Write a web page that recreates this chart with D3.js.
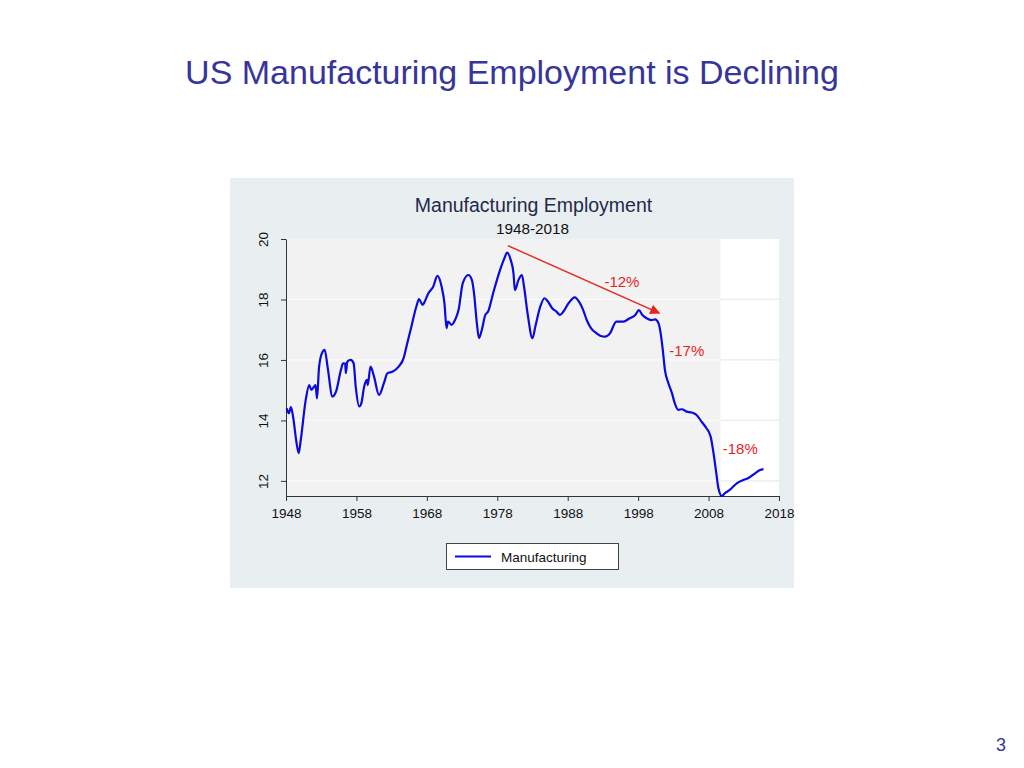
<!DOCTYPE html>
<html>
<head>
<meta charset="utf-8">
<script src="https://cdn.jsdelivr.net/npm/d3@7"></script>
<style>
  body { margin: 0; background: #ffffff; }
  svg { display: block; font-family: "Liberation Sans", Arial, sans-serif; }
</style>
</head>
<body>
<svg id="chart" width="1024" height="768"></svg>
<script>
// ---- Data (millions of employees) ----
const years = [
  1948.1, 1948.4, 1948.7, 1949.0, 1949.5, 1949.8, 1950.1, 1950.8, 1951.3, 1951.6,
  1952.0, 1952.2, 1952.4, 1952.7, 1953.2, 1953.5, 1953.9, 1954.6, 1955.1, 1955.8,
  1956.1, 1956.4, 1956.5, 1956.7, 1957.2, 1957.6, 1957.9, 1958.4, 1958.7, 1959.1,
  1959.5, 1959.6, 1960.0, 1960.5, 1961.2, 1961.9, 1962.4, 1963.1, 1964.0, 1964.7,
  1965.1, 1965.8, 1966.5, 1966.9, 1967.4, 1967.7, 1968.2, 1968.9, 1969.5, 1970.1,
  1970.5, 1970.8, 1971.0, 1971.5, 1972.0, 1972.5, 1973.1, 1973.9, 1974.4, 1974.7,
  1975.1, 1975.4, 1975.8, 1976.3, 1976.7, 1977.4, 1978.4, 1979.0, 1979.4, 1979.9,
  1980.3, 1980.5, 1981.0, 1981.5, 1981.8, 1982.3, 1983.0, 1983.4, 1984.1, 1984.7,
  1985.2, 1985.8, 1986.4, 1986.9, 1987.4, 1988.1, 1989.0, 1989.6, 1990.2, 1990.7,
  1991.3, 1992.1, 1992.7, 1993.3, 1994.0, 1994.9, 1995.9, 1996.8, 1997.6, 1998.1,
  1998.6, 1999.2, 1999.9, 2000.4, 2000.9, 2001.2, 2001.5, 2001.8, 2002.3, 2002.8,
  2003.2, 2003.7, 2004.2, 2004.9, 2005.6, 2006.3, 2007.0, 2007.7, 2008.3, 2008.7,
  2009.1, 2009.4, 2009.9, 2010.3, 2011.0, 2012.0, 2012.9, 2013.6, 2014.6, 2015.3,
  2015.8
];
const employment = [
  14.40, 14.24, 14.44, 14.13, 13.25, 12.92, 13.36, 14.68, 15.17, 15.01,
  15.12, 15.17, 14.73, 15.78, 16.27, 16.33, 15.78, 14.79, 14.95, 15.67,
  15.89, 15.88, 15.56, 15.94, 16.00, 15.89, 15.12, 14.46, 14.57, 15.12,
  15.34, 15.17, 15.78, 15.45, 14.84, 15.23, 15.56, 15.61, 15.78, 16.06,
  16.44, 17.10, 17.76, 18.01, 17.82, 17.93, 18.20, 18.42, 18.78, 18.42,
  17.87, 17.05, 17.27, 17.16, 17.32, 17.65, 18.54, 18.81, 18.64, 18.20,
  17.21, 16.72, 16.99, 17.49, 17.60, 18.20, 18.98, 19.36, 19.55, 19.31,
  18.87, 18.31, 18.64, 18.81, 18.42, 17.54, 16.72, 17.10, 17.76, 18.04,
  17.93, 17.71, 17.60, 17.49, 17.60, 17.87, 18.07, 17.93, 17.65, 17.32,
  17.05, 16.88, 16.79, 16.77, 16.88, 17.27, 17.27, 17.38, 17.49, 17.65,
  17.49, 17.38, 17.32, 17.34, 17.21, 16.88, 16.33, 15.67, 15.23, 14.90,
  14.57, 14.35, 14.37, 14.29, 14.26, 14.18, 13.96, 13.74, 13.46, 12.92,
  12.25, 11.76, 11.50, 11.59, 11.70, 11.92, 12.03, 12.09, 12.25, 12.36,
  12.39
];
const xTicks = [1948, 1958, 1968, 1978, 1988, 1998, 2008, 2018];
const yTicks = [12, 14, 16, 18, 20];
const annotations = [
  { label: "-12%", year: 1995.7, value: 18.6 },
  { label: "-17%", year: 2004.9, value: 16.3 },
  { label: "-18%", year: 2012.5, value: 13.05 }
];
const arrowFrom = { year: 1979.5, value: 19.78 };
const arrowTo = { year: 2001.0, value: 17.55 };
const pageTitle = "US Manufacturing Employment is Declining";
const chartTitle = "Manufacturing Employment";
const chartSubtitle = "1948-2018";
const legendLabel = "Manufacturing";

// ---- Drawing ----
const svg = d3.select("#chart");
const plot = { left: 286, right: 779, top: 239, bottom: 496 };

const x = d3.scaleLinear().domain([1948, 2018]).range([plot.left, plot.right]);
const y = d3.scaleLinear().domain([11.5, 20]).range([plot.bottom, plot.top]);

// page title
svg.append("text")
  .attr("x", 512).attr("y", 84)
  .attr("text-anchor", "middle")
  .attr("font-size", 34)
  .attr("fill", "#36359a")
  .text(pageTitle);

// page number
svg.append("text")
  .attr("x", 1006).attr("y", 751)
  .attr("text-anchor", "end")
  .attr("font-size", 18)
  .attr("fill", "#36359a")
  .text("3");

// outer panel
svg.append("rect")
  .attr("x", 230).attr("y", 178).attr("width", 564).attr("height", 410)
  .attr("fill", "#e9eef1");

// plot background
svg.append("rect")
  .attr("x", plot.left).attr("y", plot.top)
  .attr("width", plot.right - plot.left).attr("height", plot.bottom - plot.top)
  .attr("fill", "#f2f2f2");
// lighter right block (as in the picture)
svg.append("rect")
  .attr("x", x(2009.7)).attr("y", plot.top)
  .attr("width", plot.right - x(2009.7)).attr("height", plot.bottom - plot.top)
  .attr("fill", "#ffffff");

// gridlines
svg.append("g").selectAll("line")
  .data(yTicks.slice(0, -1))
  .join("line")
  .attr("x1", plot.left).attr("x2", plot.right)
  .attr("y1", d => y(d)).attr("y2", d => y(d))
  .attr("stroke", "#fbfbfb").attr("stroke-width", 1.2);
svg.append("g").selectAll("line")
  .data(yTicks.slice(0, -1))
  .join("line")
  .attr("x1", x(2009.7)).attr("x2", plot.right)
  .attr("y1", d => y(d)).attr("y2", d => y(d))
  .attr("stroke", "#ececec").attr("stroke-width", 1.2);

// chart titles
svg.append("text")
  .attr("x", 533.5).attr("y", 212)
  .attr("text-anchor", "middle")
  .attr("font-size", 19.5)
  .attr("fill", "#1e2b4a")
  .text(chartTitle);
svg.append("text")
  .attr("x", 532.5).attr("y", 234)
  .attr("text-anchor", "middle")
  .attr("font-size", 15.3)
  .attr("fill", "#111")
  .text(chartSubtitle);

// axes
const xAxis = d3.axisBottom(x).tickValues(xTicks).tickFormat(d3.format("d")).tickSize(5).tickSizeOuter(0);
const gx = svg.append("g").attr("transform", `translate(0,${plot.bottom})`).call(xAxis);
gx.select(".domain").attr("stroke", "#333");
gx.selectAll(".tick line").attr("stroke", "#333");
gx.selectAll(".tick text").attr("font-size", 13.5).attr("fill", "#111")
  .attr("font-family", "Liberation Sans, Arial, sans-serif").attr("dy", "1.05em");

const yAxis = d3.axisLeft(y).tickValues(yTicks).tickSize(5).tickSizeOuter(0);
const gy = svg.append("g").attr("transform", `translate(${plot.left},0)`).call(yAxis);
gy.select(".domain").attr("stroke", "#333");
gy.selectAll(".tick line").attr("stroke", "#333");
gy.selectAll(".tick text")
  .attr("font-size", 13.5).attr("fill", "#111")
  .attr("font-family", "Liberation Sans, Arial, sans-serif")
  .attr("x", null).attr("dy", null)
  .attr("text-anchor", "middle")
  .attr("transform", "translate(-23,0) rotate(-90)")
  .attr("y", 0).attr("dy", "0.35em");

// line
const line = d3.line().x((d, i) => x(years[i])).y(d => y(d)).curve(d3.curveMonotoneX);
svg.append("path")
  .datum(employment)
  .attr("d", line)
  .attr("fill", "none")
  .attr("stroke", "#0a0adf")
  .attr("stroke-width", 2.2)
  .attr("stroke-linejoin", "round");

// arrow
svg.append("defs").append("marker")
  .attr("id", "arrowhead")
  .attr("viewBox", "0 0 10 10")
  .attr("refX", 9).attr("refY", 5)
  .attr("markerWidth", 13).attr("markerHeight", 10)
  .attr("markerUnits", "userSpaceOnUse")
  .attr("orient", "auto")
  .append("path").attr("d", "M0,0 L10,5 L0,10 Z").attr("fill", "#e8221c");
svg.append("line")
  .attr("x1", x(arrowFrom.year)).attr("y1", y(arrowFrom.value))
  .attr("x2", x(arrowTo.year)).attr("y2", y(arrowTo.value))
  .attr("stroke", "#e8221c").attr("stroke-width", 1.4)
  .attr("marker-end", "url(#arrowhead)");

// annotations
svg.append("g").selectAll("text")
  .data(annotations)
  .join("text")
  .attr("x", d => x(d.year)).attr("y", d => y(d.value))
  .attr("text-anchor", "middle")
  .attr("dy", "0.35em")
  .attr("font-size", 15)
  .attr("fill", "#e8221c")
  .text(d => d.label);

// legend
const lg = svg.append("g");
lg.append("rect")
  .attr("x", 446.5).attr("y", 543.5).attr("width", 172).attr("height", 26)
  .attr("fill", "#ffffff").attr("stroke", "#444").attr("stroke-width", 1);
lg.append("line")
  .attr("x1", 455).attr("x2", 491).attr("y1", 556.5).attr("y2", 556.5)
  .attr("stroke", "#0a0adf").attr("stroke-width", 2);
lg.append("text")
  .attr("x", 501).attr("y", 557).attr("dy", "0.35em")
  .attr("font-size", 13.5).attr("fill", "#111")
  .text(legendLabel);
</script>
</body>
</html>
